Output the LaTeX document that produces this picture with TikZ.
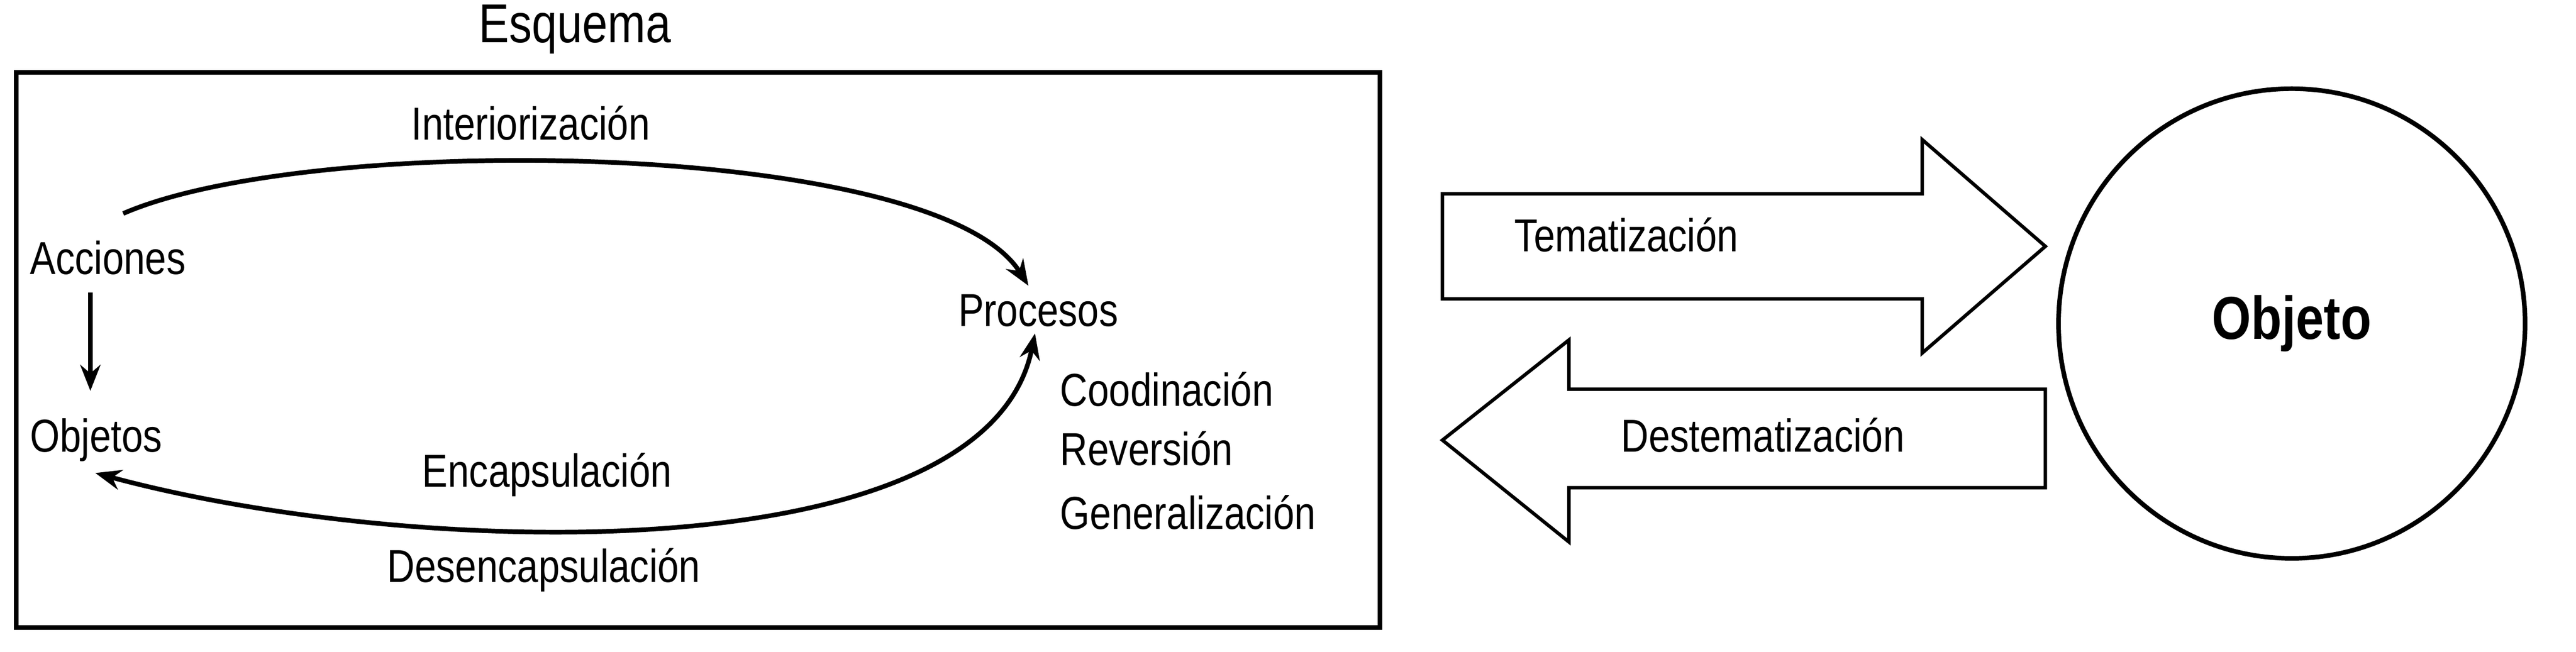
\documentclass[tikz,border=0pt]{standalone}
\usepackage{fontspec}
\setmainfont{Liberation Sans}[FakeStretch=0.83]
\usetikzlibrary{arrows.meta}
\begin{document}
\begin{tikzpicture}[x=0.02cm,y=-0.02cm,
  lbl/.style={font=\fontsize{16}{18}\selectfont,inner sep=0pt},
  conn/.style={line width=1.6pt,-{Stealth[length=9pt,width=7pt]}},
  blk/.style={draw,line width=1.2pt,fill=white}]
\useasboundingbox (0,0) rectangle (1568,397);
\node[lbl,font=\fontsize{19}{21}\selectfont] (title) at (350,18) {Esquema};
\draw[line width=1.6pt] (10,44) rectangle (840,382);
\node[lbl] (inter) at (323,75) {Interiorización};
\node[lbl,anchor=west] (acc) at (18,157) {Acciones};
\node[lbl,anchor=west] (obj) at (18,268) {Objetos};
\node[lbl] (proc) at (632,189) {Procesos};
\node[lbl,anchor=west] (coo) at (645,237) {Coodinación};
\node[lbl,anchor=west] (rev) at (645,273) {Reversión};
\node[lbl,anchor=west] (gen) at (645,312) {Generalización};
\node[lbl] (enc) at (333,289) {Encapsulación};
\node[lbl] (desenc) at (331,347) {Desencapsulación};
\coordinate (t1) at (75,130);
\coordinate (t2) at (626,174);
\draw[conn] (t1) .. controls (190,80) and (570,85) .. (t2);
\coordinate (b1) at (630,203);
\coordinate (b2) at (58,288);
\draw[conn,{Stealth[length=9pt,width=7pt]}-{Stealth[length=9pt,width=7pt]}] (b1) .. controls (600,350) and (250,340) .. (b2);
\coordinate (a1) at (55,178);
\coordinate (a2) at (55,238);
\draw[conn] (a1) -- (a2);
\draw[blk] (878,118) -- (1170,118) -- (1170,85) -- (1245,150) -- (1170,215) -- (1170,182) -- (878,182) -- cycle;
\node[lbl] (tem) at (990,143) {Tematización};
\draw[blk] (1245,237) -- (955,237) -- (955,207) -- (878,268) -- (955,330) -- (955,297) -- (1245,297) -- cycle;
\node[lbl] (dest) at (1073,265) {Destematización};
\draw[line width=1.6pt] (1395,197) ellipse [x radius=142,y radius=143];
\node[lbl,font=\fontsize{21}{24}\selectfont\bfseries] (objeto) at (1395,197) {Objeto};
\end{tikzpicture}
\end{document}
